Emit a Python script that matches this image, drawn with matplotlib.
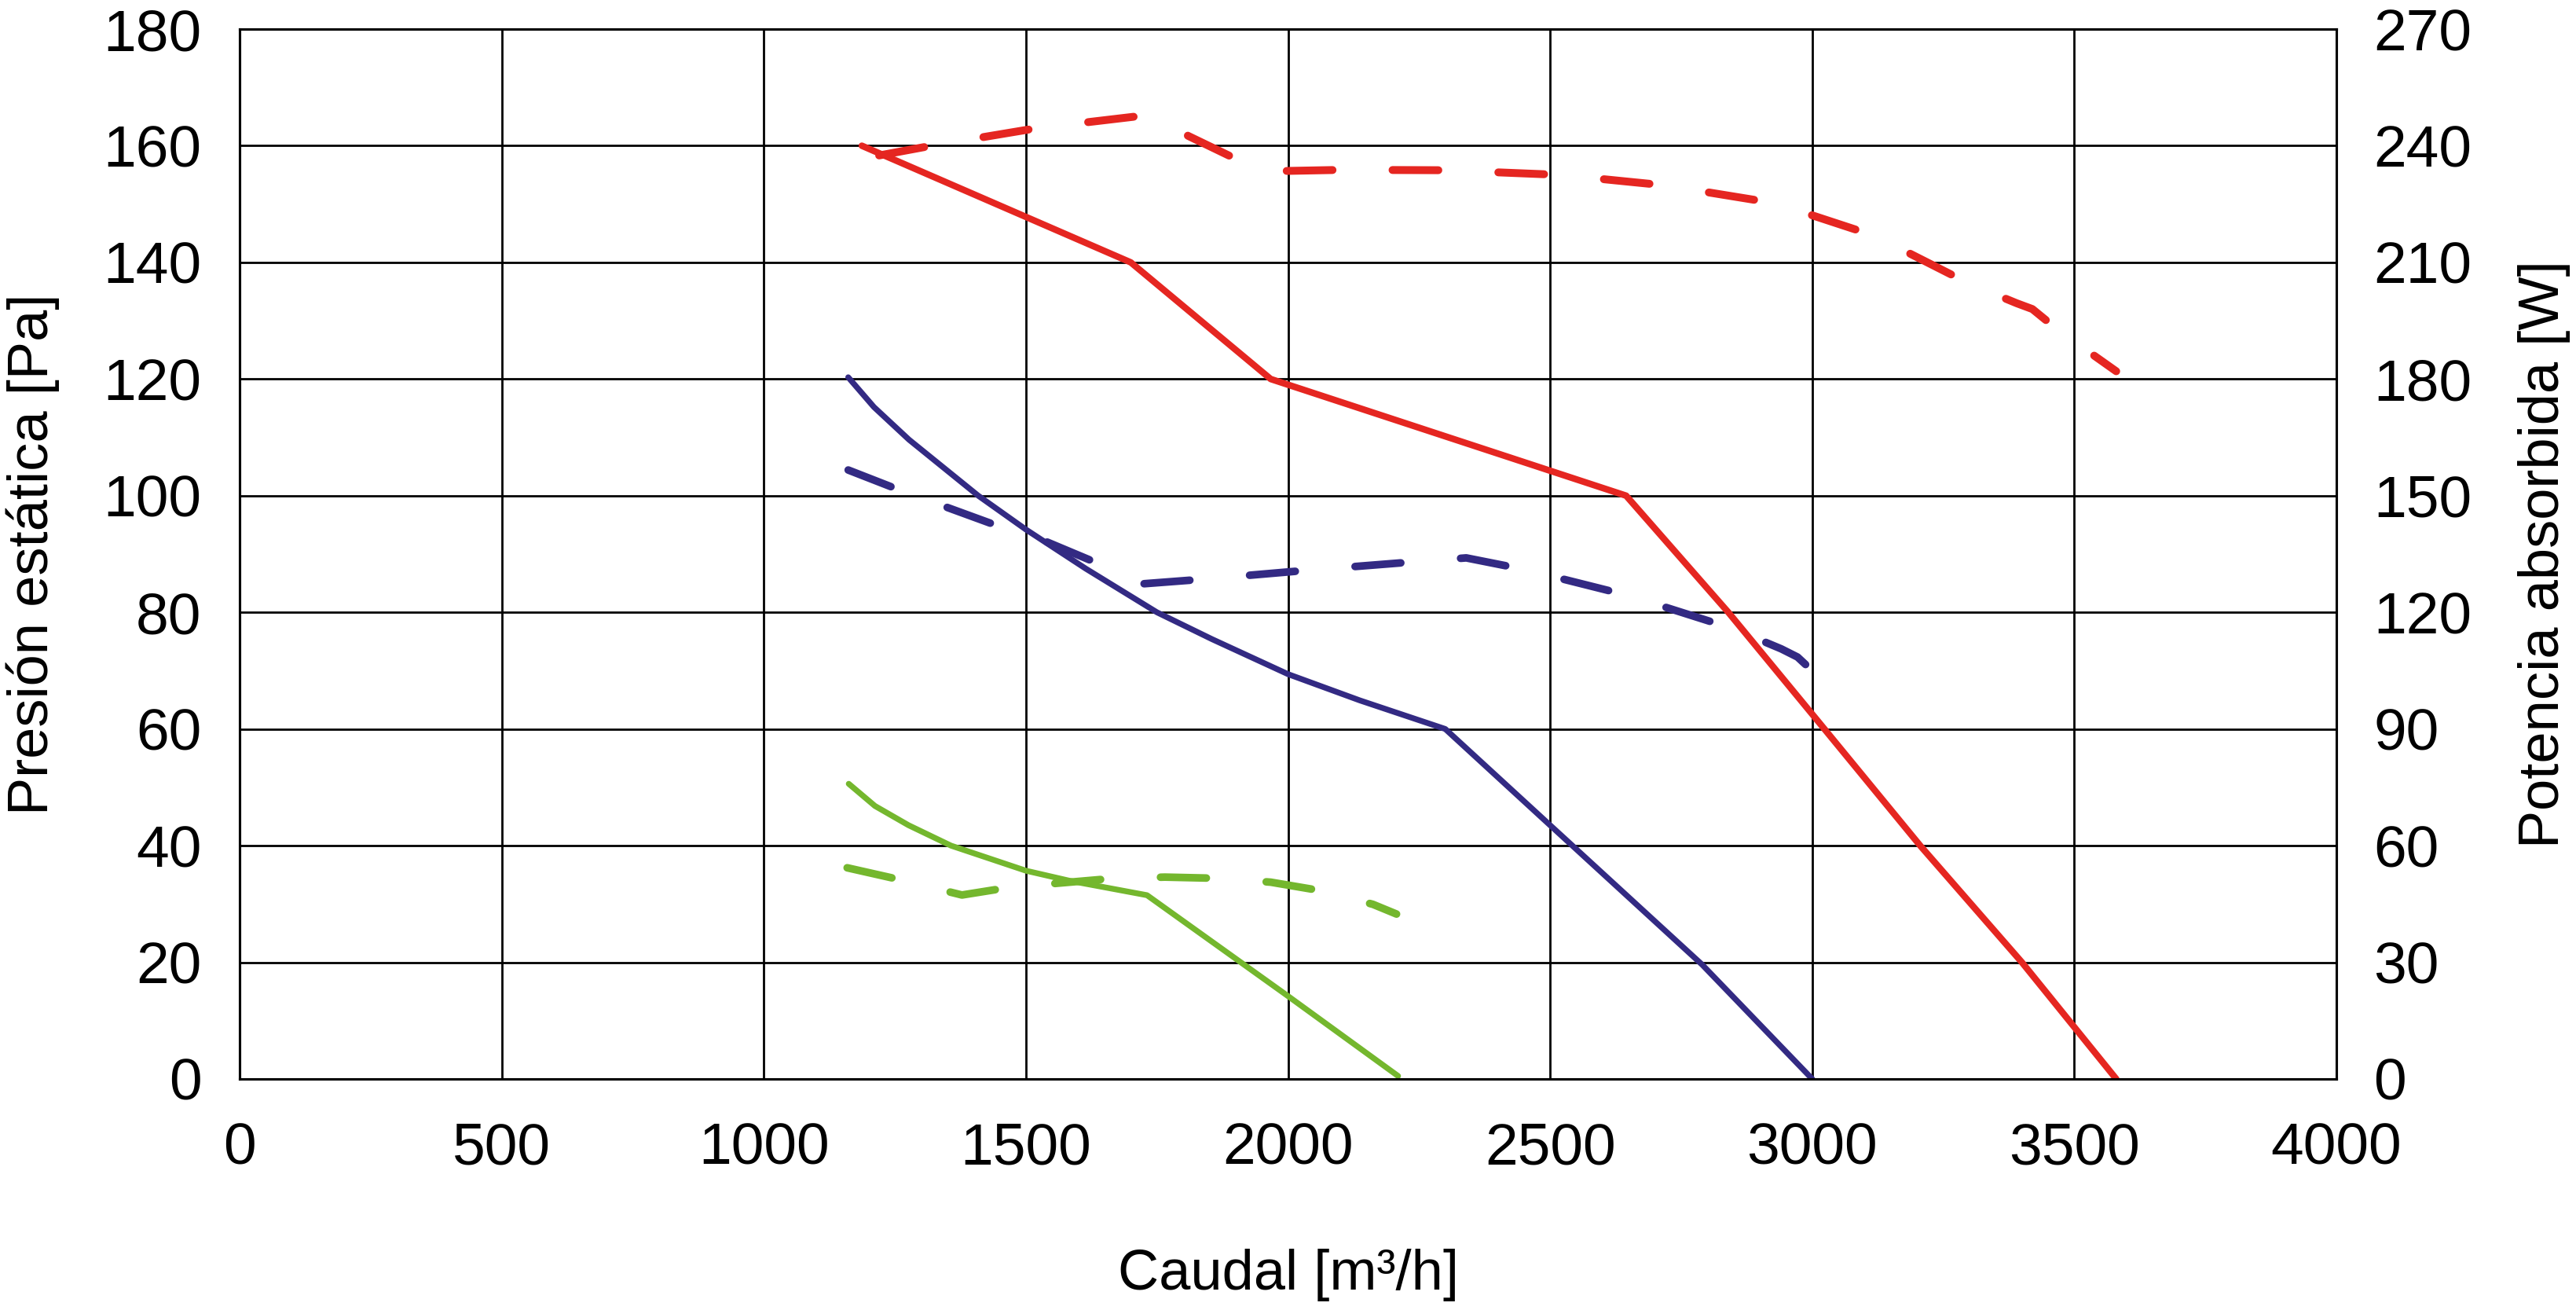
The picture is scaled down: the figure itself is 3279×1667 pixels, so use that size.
#!/usr/bin/env python3
"""
Fan curve: static pressure (solid, left axis) and absorbed power (dashed, right axis)
vs airflow for three speeds.
"""
import matplotlib
matplotlib.use("Agg")
import matplotlib.pyplot as plt

# Static pressure curves [Pa] vs airflow [m3/h]
red_q = [1187, 1700, 1967, 2645, 2840, 3005, 3206, 3400, 3580]
red_p = [160, 140, 120, 100, 80, 62, 40, 20, 0]

blue_q = [1161, 1210, 1277, 1409, 1500, 1614, 1750, 1855, 2000, 2137, 2300, 2500, 2790, 3000]
blue_p = [120.3, 115.2, 109.6, 100, 94.2, 87.5, 80, 75.4, 69.4, 64.9, 60, 43.5, 19.6, 0]

green_q = [1162, 1212, 1276, 1357, 1500, 1582, 1731, 2000, 2210]
green_p = [50.6, 46.8, 43.5, 40, 35.7, 34, 31.5, 14.2, 0.5]

# Absorbed power curves [W] vs airflow [m3/h]
red_w_q = [1220, 1320, 1520, 1740, 1810, 1910, 1990, 2105, 2300, 2520, 2720, 2930, 3120,
           3300, 3390, 3420, 3470, 3580]
red_w = [237.5, 240, 244.5, 248, 242.5, 236, 233.5, 233.8, 233.7, 232.5, 229.8, 225.2, 216.8,
         204.5, 199.5, 198, 192.5, 182]

blue_w_q = [1161, 1258, 1451, 1540, 1639, 1720, 1837, 2036, 2242, 2340, 2452, 2650, 2849,
            2941, 2972, 3000]
blue_w = [156.6, 151.5, 142, 138.1, 132.5, 127.3, 128.5, 130.8, 133, 134, 131, 124.3, 115.8,
          110.6, 108.5, 105]

green_w_q = [1159, 1261, 1378, 1457, 1558, 1661, 1765, 1865, 1967, 2063, 2162, 2207]
green_w = [54.3, 51.2, 47.3, 49, 50.3, 51.5, 51.9, 51.6, 50.6, 48.4, 44.9, 42.4]

x_ticks = [0, 500, 1000, 1500, 2000, 2500, 3000, 3500, 4000]
p_ticks = [0, 20, 40, 60, 80, 100, 120, 140, 160, 180]
w_ticks = [0, 30, 60, 90, 120, 150, 180, 210, 240, 270]

RED = "#e52621"
BLUE = "#332a83"
GREEN = "#74b72e"


def main():
    plt.rcParams["font.family"] = ["Liberation Sans", "DejaVu Sans"]
    plt.rcParams["lines.scale_dashes"] = False

    fig = plt.figure(figsize=(32.8, 16.67), dpi=100)
    ax = fig.add_axes([0.0930, 0.1764, 0.8137, 0.8014])
    ax2 = ax.twinx()

    dash = (42, 55)
    solid = dict(solid_capstyle="round", solid_joinstyle="round")
    dashed = dict(dashes=dash, dash_capstyle="round", dash_joinstyle="round")

    ax.plot(red_q, red_p, color=RED, lw=6, **solid)
    ax.plot(blue_q, blue_p, color=BLUE, lw=5.3, **solid)
    ax.plot(green_q, green_p, color=GREEN, lw=5.3, **solid)

    ax2.plot(red_w_q, red_w, color=RED, lw=7.2, **dashed)
    ax2.plot(blue_w_q, blue_w, color=BLUE, lw=7, **dashed)
    ax2.plot(green_w_q, green_w, color=GREEN, lw=7, **dashed)

    ax.set_xlim(0, 4000)
    ax.set_ylim(0, 180)
    ax2.set_ylim(0, 270)
    ax.set_xticks(x_ticks)
    ax.set_yticks(p_ticks)
    ax2.set_yticks(w_ticks)

    ax.grid(True, color="black", lw=2)
    ax.set_axisbelow(True)
    for a in (ax, ax2):
        for s in a.spines.values():
            s.set_color("black")
            s.set_linewidth(2.2)

    ax.tick_params(axis="both", length=0, labelsize=54)
    ax.tick_params(axis="y", pad=35)
    ax.tick_params(axis="x", pad=39)
    ax2.tick_params(axis="y", length=0, labelsize=54, pad=34)

    ax.set_xlabel("Caudal [m³/h]", fontsize=52)
    ax.set_ylabel("Presión estática [Pa]", fontsize=52)
    ax2.set_ylabel("Potencia absorbida [W]", fontsize=52)
    ax.xaxis.set_label_coords(0.5, -0.162)
    ax.yaxis.set_label_coords(-0.086, 0.5)
    ax2.yaxis.set_label_coords(1.0865, 0.5)

    fig.savefig("out.png", dpi=100)
    plt.close(fig)
    return 0


if __name__ == "__main__":
    exit(main())
